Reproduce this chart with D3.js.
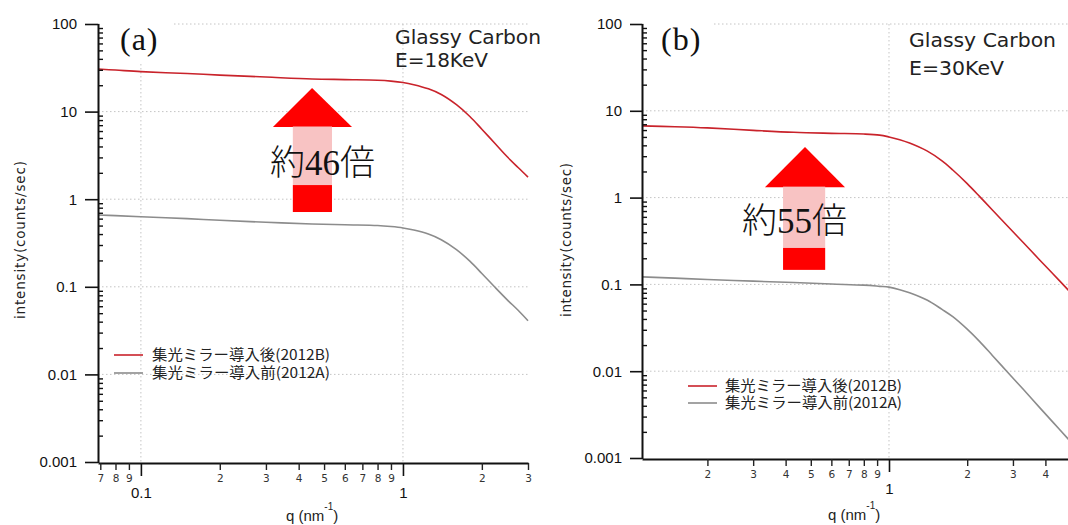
<!DOCTYPE html>
<html><head><meta charset="utf-8">
<script src="https://cdn.jsdelivr.net/npm/d3@7"></script>
<style>body{margin:0;background:#fff;} svg{display:block;}</style>
</head><body><svg id="c" width="1068" height="525"></svg>
<script>
// ---------- data ----------
const qA    = [0.0686,0.08,0.1,0.15,0.2,0.3,0.45,0.6,0.8,0.9,1.0,1.1,1.25,1.4,1.6,1.8,2.0,2.25,2.5,2.75,3.0];
const redA  = [30.6,29.8,28.6,27.2,26.1,24.8,23.6,23.2,22.8,22.3,21.5,20.3,18.2,15.7,12.0,8.8,6.3,4.3,3.05,2.3,1.79];
const grayA = [0.66,0.65,0.63,0.60,0.575,0.545,0.522,0.51,0.50,0.487,0.47,0.445,0.40,0.345,0.266,0.196,0.142,0.098,0.071,0.054,0.041];

const qB    = [0.112,0.15,0.2,0.3,0.43,0.6,0.8,0.92,1.0,1.1,1.2,1.4,1.6,1.76,2.0,2.24,2.5,2.92,3.3,3.81,4.3,4.9,5.2];
const redB  = [6.7,6.55,6.35,5.95,5.65,5.5,5.4,5.25,5.0,4.65,4.25,3.45,2.65,2.08,1.45,1.02,0.72,0.44,0.30,0.19,0.13,0.086,0.071];
const grayB = [0.122,0.118,0.114,0.109,0.105,0.101,0.098,0.095,0.093,0.087,0.080,0.066,0.0515,0.0425,0.0305,0.0218,0.0152,0.0091,0.0061,0.00378,0.00254,0.00165,0.00136];

const yTicks      = [0.001,0.01,0.1,1,10,100];
const yTickLabels = ["0.001","0.01","0.1","1","10","100"];
const seriesNames = ["集光ミラー導入後(2012B)","集光ミラー導入前(2012A)"];
const panelLabels = ["(a)","(b)"];
const sampleText  = ["Glassy Carbon","Glassy Carbon"];
const energyText  = ["E=18KeV","E=30KeV"];
const factors     = ["46","55"];
// arrow annotations in data units: q = [headLeft, shaftLeft, tip, shaftRight, headRight]
// I = [tip, headBase, pinkEnd, bottom]
const arrowAq = [0.319,0.380,0.45,0.536,0.639];
const arrowAI = [18.6,6.67,1.45,0.714];
const arrowBq = [0.333,0.391,0.475,0.568,0.677];
const arrowBI = [3.83,1.32,0.263,0.147];

// ---------- layout ----------
const panels = [
  {q:qA, red:redA, gray:grayA, xDom:[0.0686,3], xR:[98,528], yR:[462,24], axisY:463, yTick:13,
   aq:arrowAq, aI:arrowAI, lab:{x:120,y:50,box:[100,14,74,48]},
   txt:{x:395,y1:44,y2:67,w1:146,w2:93}, fac:{x:270,y:175},
   leg:{x1:114,x2:143,y1:355,y2:373,tx:152,tw:178},
   ytitle:{x:25,y:240,w:158}, xtitle:{x:286,y:521}},
  {q:qB, red:redB, gray:grayB, xDom:[0.112,5.2], xR:[642,1075], yR:[458,24], axisY:459, yTick:12,
   aq:arrowBq, aI:arrowBI, lab:{x:661,y:50,box:[644,14,70,46]},
   txt:{x:909,y1:47,y2:75,w1:147,w2:95}, fac:{x:742,y:233},
   leg:{x1:688,x2:717,y1:386,y2:403,tx:725,tw:177},
   ytitle:{x:571,y:240,w:154}, xtitle:{x:828,y:520}}
];

const W = 1068;
const svg = d3.select('#c');
const RED = '#c9232b', GRAY = '#8c8c8c';

function decadeTicks(dom, mset){
  const t=[];
  for(let e=-3;e<=1;e++) for(const m of mset){
    const v=+(m*Math.pow(10,e)).toPrecision(3);
    if(v>=dom[0]*0.999 && v<=dom[1]*1.001) t.push(v);
  }
  return t;
}

panels.forEach((p,pi)=>{
  const x = d3.scaleLog().domain(p.xDom).range(p.xR);
  const y = d3.scaleLog().domain([0.001,100]).range(p.yR);
  const g = svg.append('g');
  const majorX = decadeTicks(p.xDom,[1]);
  const minorX = decadeTicks(p.xDom,[2,3,4,5,6,7,8,9]).filter(v=>x(v)<=W-4);
  const minorY = decadeTicks([0.001,100],[2,3,4,5,6,7,8,9]);

  // grid
  g.append('g').selectAll('line').data(yTicks.slice(1)).join('line')
    .attr('x1',p.xR[0]).attr('x2',p.xR[1]).attr('y1',d=>y(d)).attr('y2',d=>y(d))
    .attr('stroke','#c4c4c4').attr('stroke-width',1).attr('stroke-dasharray','1.5,2.5');
  g.append('g').selectAll('line').data(majorX).join('line')
    .attr('x1',d=>x(d)).attr('x2',d=>x(d)).attr('y1',y(100)).attr('y2',p.axisY)
    .attr('stroke','#c4c4c4').attr('stroke-width',1).attr('stroke-dasharray','1.5,2.5');

  // label box + panel label
  g.append('rect').attr('x',p.lab.box[0]).attr('y',p.lab.box[1]).attr('width',p.lab.box[2]).attr('height',p.lab.box[3]).attr('fill','#fff');
  g.append('text').attr('x',p.lab.x).attr('y',p.lab.y).text(panelLabels[pi])
    .attr('font-family','Liberation Serif, Times New Roman, serif').attr('font-size',32).attr('letter-spacing',1).attr('fill','#111');

  // curves
  const line = d3.line().x((d,i)=>x(p.q[i])).y(d=>y(d)).curve(d3.curveCatmullRom.alpha(0.5));
  g.append('path').attr('d',line(p.gray)).attr('fill','none').attr('stroke',GRAY).attr('stroke-width',1.6);
  g.append('path').attr('d',line(p.red)).attr('fill','none').attr('stroke',RED).attr('stroke-width',1.6);

  // arrow
  const [hl,sl,tp,sr,hr] = p.aq.map(v=>x(v));
  const [yt,yb,yp,ybot] = p.aI.map(v=>y(v));
  g.append('path').attr('d',`M${hl},${yb}L${tp},${yt}L${hr},${yb}Z`).attr('fill','#ff0000');
  g.append('rect').attr('x',sl).attr('y',yb-0.5).attr('width',sr-sl).attr('height',yp-yb+0.5).attr('fill','#f8c3c3');
  g.append('rect').attr('x',sl).attr('y',yp).attr('width',sr-sl).attr('height',ybot-yp).attr('fill','#ff0000');
  const ft = g.append('text').attr('x',p.fac.x).attr('y',p.fac.y).attr('font-size',35).attr('fill','#111')
    .attr('font-family','Noto Sans CJK JP, sans-serif').attr('font-weight',300);
  ft.append('tspan').text('約');
  ft.append('tspan').attr('font-family','Liberation Serif, Times New Roman, serif').attr('font-weight',400).text(factors[pi]);
  ft.append('tspan').text('倍');

  // sample text
  g.append('text').attr('x',p.txt.x).attr('y',p.txt.y1).text(sampleText[pi])
    .attr('font-family','DejaVu Sans, sans-serif').attr('font-size',19.5).attr('fill','#222')
    .attr('textLength',p.txt.w1).attr('lengthAdjust','spacingAndGlyphs');
  g.append('text').attr('x',p.txt.x).attr('y',p.txt.y2).text(energyText[pi])
    .attr('font-family','DejaVu Sans, sans-serif').attr('font-size',19.5).attr('fill','#222')
    .attr('textLength',p.txt.w2).attr('lengthAdjust','spacingAndGlyphs');

  // legend
  [[p.leg.y1,RED],[p.leg.y2,GRAY]].forEach(([ly,c],i)=>{
    g.append('line').attr('x1',p.leg.x1).attr('x2',p.leg.x2).attr('y1',ly).attr('y2',ly).attr('stroke',c).attr('stroke-width',1.6);
    g.append('text').attr('x',p.leg.tx).attr('y',ly).attr('dy','0.36em').text(seriesNames[i])
      .attr('font-family','Noto Sans CJK JP, sans-serif').attr('font-size',14.5).attr('fill','#222')
      .attr('textLength',p.leg.tw).attr('lengthAdjust','spacingAndGlyphs');
  });

  // y axis
  const ya = g.append('g').attr('transform',`translate(${p.xR[0]},0)`)
    .call(d3.axisLeft(y).tickValues(yTicks).tickFormat((d,i)=>yTickLabels[i]).tickSize(p.yTick).tickPadding(8).tickSizeOuter(0));
  ya.attr('font-family','Liberation Sans, Arial, sans-serif').attr('font-size',15);
  ya.selectAll('text').attr('fill','#111');
  ya.selectAll('line').attr('stroke','#111').attr('stroke-width',1.6);
  ya.select('.domain').attr('stroke','#111').attr('stroke-width',2).attr('d',`M0.5,${p.axisY}V${p.yR[1]}`);
  const ym = g.append('g').attr('transform',`translate(${p.xR[0]},0)`)
    .call(d3.axisRight(y).tickValues(minorY).tickFormat('').tickSize(5).tickSizeOuter(0));
  ym.select('.domain').remove();
  ym.selectAll('line').attr('stroke','#111').attr('stroke-width',1.4);

  // x axis
  const xa = g.append('g').attr('transform',`translate(0,${p.axisY})`)
    .call(d3.axisBottom(x).tickValues(majorX).tickFormat(d=>d<1?'0.1':'1').tickSize(13).tickPadding(11).tickSizeOuter(0));
  xa.attr('font-family','Liberation Sans, Arial, sans-serif').attr('font-size',15);
  xa.selectAll('text').attr('fill','#111');
  xa.selectAll('line').attr('stroke','#111').attr('stroke-width',1.6);
  xa.select('.domain').attr('stroke','#111').attr('stroke-width',2);
  const xm = g.append('g').attr('transform',`translate(0,${p.axisY})`)
    .call(d3.axisBottom(x).tickValues(minorX)
      .tickFormat(d=>String(Math.round(d/Math.pow(10,Math.floor(Math.log10(d)+1e-9)))))
      .tickSize(7).tickPadding(5).tickSizeOuter(0));
  xm.select('.domain').remove();
  xm.attr('font-family','DejaVu Sans, sans-serif').attr('font-size',10.5);
  xm.selectAll('text').attr('fill','#333');
  xm.selectAll('line').attr('stroke','#222').attr('stroke-width',1.4);

  // axis titles
  g.append('text').attr('transform',`translate(${p.ytitle.x},${p.ytitle.y}) rotate(-90)`)
    .attr('text-anchor','middle').text('intensity(counts/sec)')
    .attr('font-family','DejaVu Sans, sans-serif').attr('font-size',13.5).attr('fill','#222')
    .attr('textLength',p.ytitle.w).attr('lengthAdjust','spacing');
  const xt = g.append('text').attr('x',p.xtitle.x).attr('y',p.xtitle.y)
    .attr('font-family','Liberation Sans, Arial, sans-serif').attr('font-size',15).attr('fill','#222');
  xt.append('tspan').text('q (nm');
  xt.append('tspan').attr('dy',-11).attr('font-size',10).text('-1');
  xt.append('tspan').attr('dy',11).text(')');
});
</script>
</body></html>
